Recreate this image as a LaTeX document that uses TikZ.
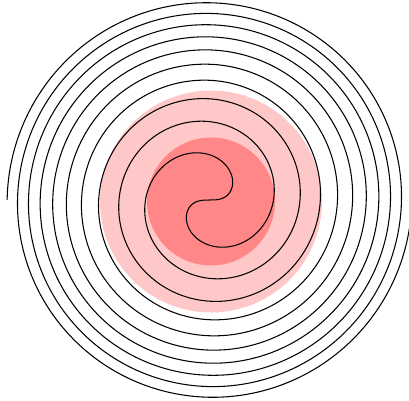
\documentclass[tikz,border=0pt]{standalone}
\usepackage{xcolor}
\definecolor{diskpale}{HTML}{FFC8C8}
\definecolor{diskred}{HTML}{FF8787}
\tikzset{spiralarm/.style={line width=0.6pt, black}}
\begin{document}
\begin{tikzpicture}[x=0.02cm, y=0.02cm]
  \useasboundingbox (-209.5,-200) rectangle (199.5,200);
  \clip (-209.5,-200) rectangle (199.5,200);
  % the two disks
  \fill[diskpale] (1.5,-1.5) circle (111);
  \fill[diskred] (1.5,-1.5) circle (64);
  % both arms of the spiral, r = a sqrt(theta)
  \foreach \s in {1,-1}
    \draw[spiralarm] plot[domain=0:1800, samples=900, smooth, variable=\t]
      ({\s*4.77*sqrt(\t)*cos(\t)}, {\s*4.77*sqrt(\t)*sin(\t)});
\end{tikzpicture}
\end{document}
